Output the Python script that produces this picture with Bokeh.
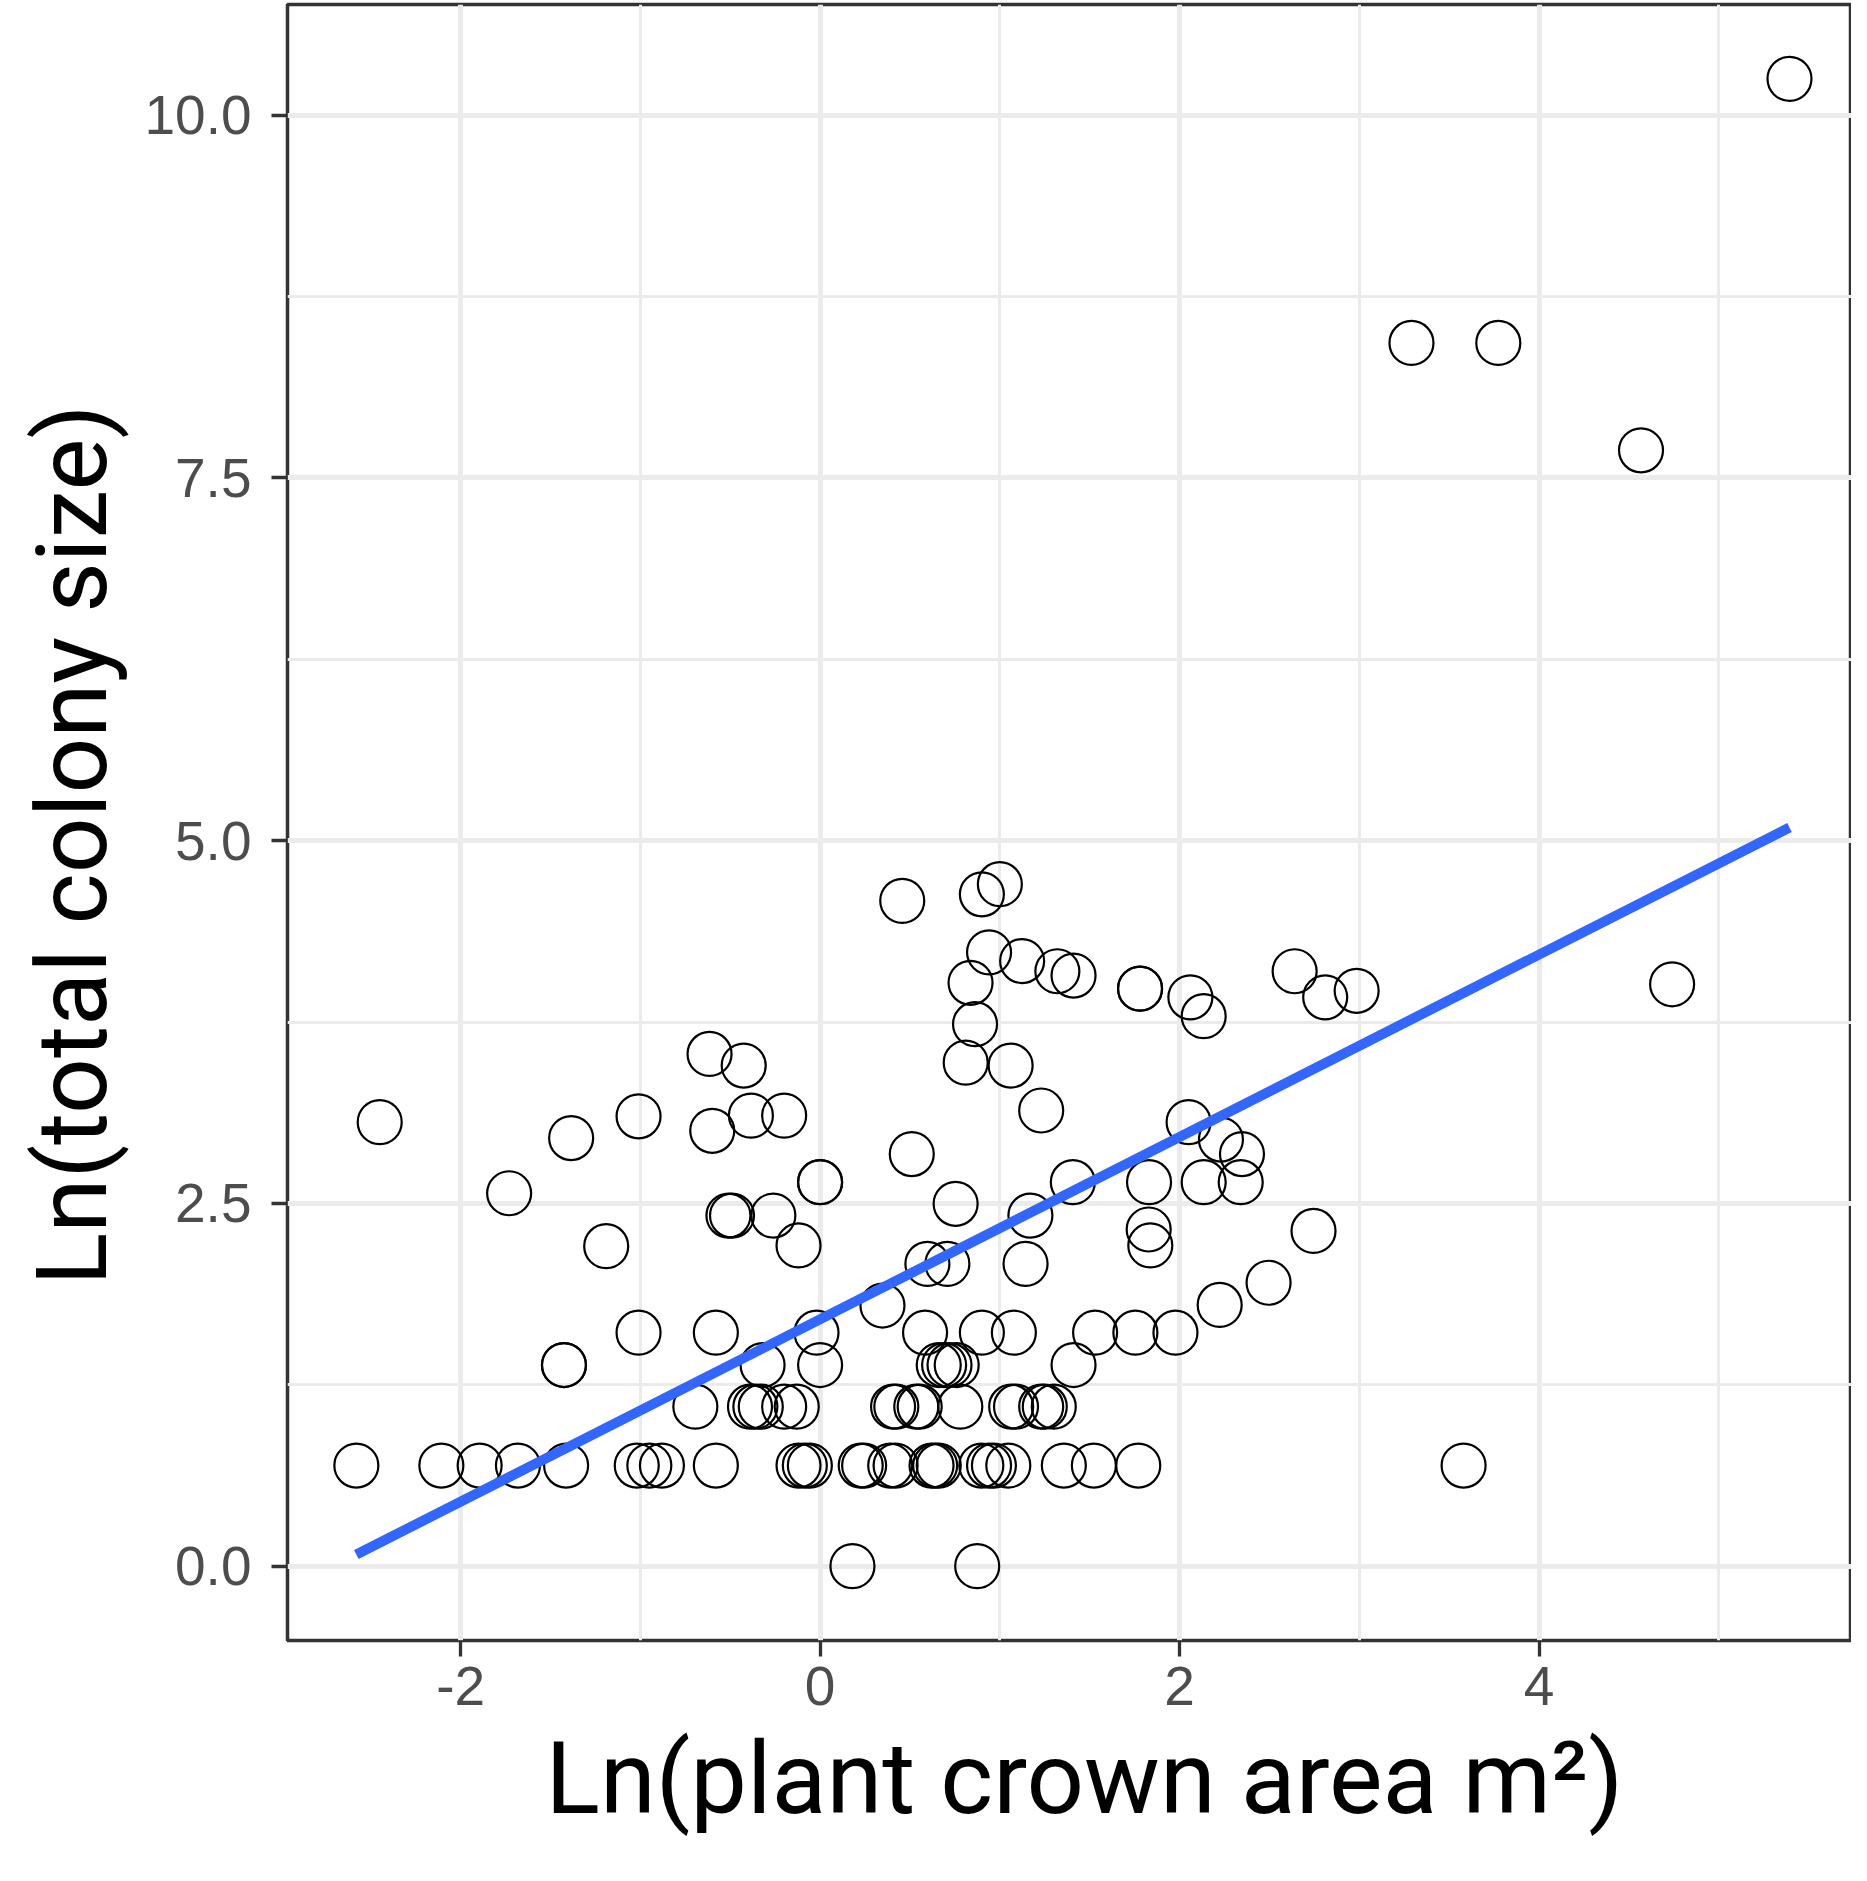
from bokeh.plotting import figure
from bokeh.models import Range1d, FixedTicker, NumeralTickFormatter, Title
from bokeh.embed import file_html
from bokeh.resources import INLINE

# Ln(plant crown area m2) values
crown_ln = [
    0.18, 0.874,
    -2.58, -2.107, -1.894, -1.681, -1.413, -1.02, -0.95, -0.88, -0.58, -0.12, -0.085, -0.057,
    0.226, 0.245, 0.39, 0.42, 0.62, 0.64, 0.66, 0.897, 0.94, 0.967, 1.047, 1.356, 1.523, 1.77, 3.58,
    -0.694, -0.39, -0.36, -0.33, -0.20, -0.13, 0.406, 0.424, 0.535, 0.554, 0.78, 1.063, 1.09, 1.23, 1.25, 1.30,
    -1.425, -1.425, -0.32, 0.0, 0.66, 0.69, 0.72, 0.76, 1.41,
    -1.01, -0.58, -0.02, 0.584, 0.90, 1.078, 1.53, 1.754, 1.977,
    0.347, 2.223, 2.495,
    0.597, 0.708, 1.143,
    -1.19, -0.12, 1.837,
    1.828, 2.745,
    -0.51, -0.49, -0.26, 1.17,
    0.754, -1.73,
    0.0, 0.0, 1.406, 1.83, 2.134, 2.34,
    0.51, 2.347, -1.385, 2.23, -0.60,
    -2.45, 2.05, -1.01, -0.385, -0.20, 1.23,
    -0.425, 1.06, 0.81, -0.615, 0.862, 2.134,
    2.06, 2.81, 2.985, 1.78, 1.78, 0.837, 4.74,
    1.41, 1.32, 2.64, 1.124, 0.94,
    0.457, 0.90, 1.0,
    3.29, 3.773, 4.567, 5.393,
]

# Ln(total colony size) values
colony_ln = [
    0.0, 0.0,
    0.693, 0.693, 0.693, 0.693, 0.693, 0.693, 0.693, 0.693, 0.693, 0.693, 0.693, 0.693,
    0.693, 0.693, 0.693, 0.693, 0.693, 0.693, 0.693, 0.693, 0.693, 0.693, 0.693, 0.693, 0.693, 0.693, 0.693,
    1.099, 1.099, 1.099, 1.099, 1.099, 1.099, 1.099, 1.099, 1.099, 1.099, 1.099, 1.099, 1.099, 1.099, 1.099, 1.099,
    1.386, 1.386, 1.386, 1.386, 1.386, 1.386, 1.386, 1.386, 1.386,
    1.609, 1.609, 1.609, 1.609, 1.609, 1.609, 1.609, 1.609, 1.609,
    1.796, 1.80, 1.953,
    2.083, 2.083, 2.083,
    2.205, 2.21, 2.21,
    2.32, 2.31,
    2.416, 2.416, 2.416, 2.416,
    2.497, 2.57,
    2.646, 2.646, 2.646, 2.646, 2.646, 2.646,
    2.84, 2.84, 2.95, 2.94, 3.0,
    3.06, 3.06, 3.10, 3.105, 3.105, 3.14,
    3.45, 3.45, 3.47, 3.53, 3.735, 3.79,
    3.92, 3.92, 3.965, 3.98, 3.98, 4.02, 4.01,
    4.07, 4.10, 4.10, 4.17, 4.23,
    4.585, 4.63, 4.70,
    8.43, 8.43, 7.69, 10.25,
]

# fitted linear trend (end points)
fit_x = [-2.58, 5.393]
fit_y = [0.08, 5.09]

x_ticks = [-2, 0, 2, 4]
x_tick_labels = ["-2", "0", "2", "4"]
x_minor = [-3, -1, 1, 3, 5]
y_ticks = [0.0, 2.5, 5.0, 7.5, 10.0]
y_minor = [1.25, 3.75, 6.25, 8.75]

x_title = "Ln(plant crown area m²)"
y_title = "Ln(total colony size)"

p = figure(width=1851, height=1865, output_backend="svg", toolbar_location=None,
           x_range=Range1d(-2.963, 5.738), y_range=Range1d(-0.5125, 10.7625),
           min_border_left=284, min_border_right=0, min_border_top=4, min_border_bottom=225)

p.background_fill_color = "white"
p.border_fill_color = "white"
p.outline_line_color = "#333333"
p.outline_line_width = 3.5

p.xaxis.ticker = FixedTicker(ticks=x_ticks, minor_ticks=x_minor)
p.yaxis.ticker = FixedTicker(ticks=y_ticks, minor_ticks=y_minor)
p.yaxis.formatter = NumeralTickFormatter(format="0.0")
p.xaxis.major_label_overrides = {t: s for t, s in zip(x_ticks, x_tick_labels)}

for g in (p.xgrid, p.ygrid):
    g.grid_line_color = "#EBEBEB"
    g.grid_line_width = 5
    g.minor_grid_line_color = "#EBEBEB"
    g.minor_grid_line_width = 3

for ax in (p.xaxis, p.yaxis):
    ax.axis_line_color = None
    ax.major_tick_line_color = "#333333"
    ax.major_tick_line_width = 3.3
    ax.major_tick_out = 16
    ax.major_tick_in = 0
    ax.minor_tick_line_color = None
    ax.major_label_text_font = "Liberation Sans"
    ax.major_label_text_font_size = "55px"
    ax.major_label_text_color = "#4D4D4D"

p.xaxis.major_label_standoff = 10
p.yaxis.major_label_standoff = 20

# axis titles, placed as side titles so they can be shifted along the axis
p.add_layout(Title(text=y_title, align="left", offset=355, standoff=24,
                   text_font="Roboto", text_font_size="98px", text_font_style="normal",
                   text_color="black"), "left")
p.add_layout(Title(text=x_title, align="left", offset=258, standoff=19,
                   text_font="Roboto", text_font_size="101px", text_font_style="normal",
                   text_color="black"), "below")

p.scatter(crown_ln, colony_ln, marker="circle", size=44, fill_color=None,
          line_color="black", line_width=2.2)
p.line(fit_x, fit_y, line_color="#3366FF", line_width=10)

open("out.html", "w").write(file_html(p, INLINE))
